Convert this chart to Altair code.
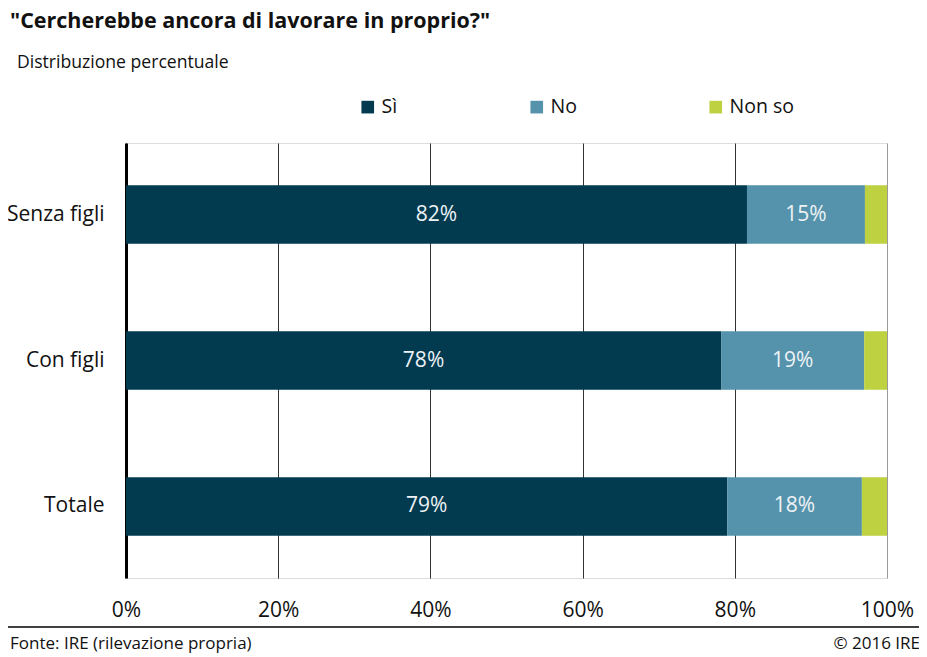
import altair as alt
import pandas as pd

categories = ["Senza figli", "Con figli", "Totale"]
responses = ["Sì", "No", "Non so"]
si_values = [81.6, 78.2, 79.0]
no_values = [15.5, 18.8, 17.7]
nonso_values = [2.9, 3.0, 3.3]
si_labels = ["82%", "78%", "79%"]
no_labels = ["15%", "19%", "18%"]
colors = ["#023a50", "#5592ab", "#bdd141"]
tick_values = [0, 20, 40, 60, 80, 100]

title_text = '"Cercherebbe ancora di lavorare in proprio?"'
subtitle_text = "Distribuzione percentuale"
source_text = "Fonte: IRE (rilevazione propria)"
copyright_text = "© 2016 IRE"

FONT = "Open Sans"

rows = []
for i, cat in enumerate(categories):
    for j, (resp, vals, labs) in enumerate(
        [("Sì", si_values, si_labels), ("No", no_values, no_labels), ("Non so", nonso_values, None)]
    ):
        rows.append({
            "cat": cat,
            "resp": resp,
            "value": vals[i],
            "order": j,
            "label": labs[i] if labs else "",
        })
df = pd.DataFrame(rows)

W, H = 761, 435

base = alt.Chart(df).transform_stack(
    stack="value", groupby=["cat"], sort=[alt.SortField("order")], as_=["x0", "x1"]
)

y_enc = alt.Y(
    "cat:N",
    sort=categories,
    scale=alt.Scale(paddingInner=0.6, paddingOuter=0.29),
    axis=alt.Axis(
        title=None,
        domain=True,
        domainColor="#000000",
        domainWidth=3,
        ticks=False,
        labelPadding=22,
        labelFontSize=21,
        labelColor="#111111",
        labelFont=FONT,
        grid=False,
    ),
)

bars = base.mark_bar().encode(
    x=alt.X(
        "x0:Q",
        scale=alt.Scale(domain=[0, 100], nice=False),
        axis=alt.Axis(
            title=None,
            values=tick_values,
            labelExpr="datum.value + '%'",
            labelFlush=False,
            grid=True,
            gridColor={"condition": {"test": "datum.value === 100", "value": "#999999"}, "value": "#333333"},
            gridWidth=1,
            domain=False,
            ticks=False,
            labelPadding=21,
            labelFontSize=21,
            labelColor="#111111",
            labelFont=FONT,
        ),
    ),
    x2="x1:Q",
    y=y_enc,
    color=alt.Color(
        "resp:N",
        scale=alt.Scale(domain=responses, range=colors),
        sort=responses,
        legend=alt.Legend(
            title=None,
            orient="none",
            legendX=232,
            legendY=-46,
            direction="horizontal",
            symbolType="square",
            symbolSize=160,
            symbolStrokeWidth=0,
            symbolOpacity=1,
            labelFontSize=19.5,
            labelFont=FONT,
            labelColor="#111111",
            labelOffset=4,
            columnPadding=129,
            padding=0,
        ),
    ),
    order=alt.Order("order:Q"),
)

labels = base.transform_calculate(
    mid="(datum.x0 + datum.x1) / 2"
).transform_filter(
    "datum.label != ''"
).mark_text(fontSize=21, font=FONT, color="#eef3f6").encode(
    x=alt.X("mid:Q"),
    y=alt.Y("cat:N", sort=categories),
    text="label:N",
)


def text_layer(txt, x, y, size, align="left", weight="normal"):
    return alt.Chart(pd.DataFrame({"t": [txt]})).mark_text(
        align=align, baseline="alphabetic", fontSize=size, font=FONT,
        color="#111111", fontWeight=weight,
    ).encode(x=alt.value(x), y=alt.value(y), text="t:N")


title_layer = text_layer(title_text, -116, -115, 21.5, weight="bold")
subtitle_layer = text_layer(subtitle_text, -109, -75, 17.6)
footer_left = text_layer(source_text, -116, H + 71, 17)
footer_right = text_layer(copyright_text, W + 33, H + 71, 17, align="right")

footer_rule = alt.Chart(pd.DataFrame({"t": [1]})).mark_rule(color="#000000", strokeWidth=1.5).encode(
    x=alt.value(-118), x2=alt.value(W + 34), y=alt.value(H + 49)
)

chart = alt.layer(
    bars, labels, footer_rule, footer_left, footer_right, title_layer, subtitle_layer
).properties(
    width=W,
    height=H,
    autosize=alt.AutoSizeParams(type="none"),
    padding={"left": 118, "top": 135, "right": 32, "bottom": 75},
).configure_view(stroke=None).configure(background="white")

chart.save("out.html", embed_options={"renderer": "svg", "actions": False})
